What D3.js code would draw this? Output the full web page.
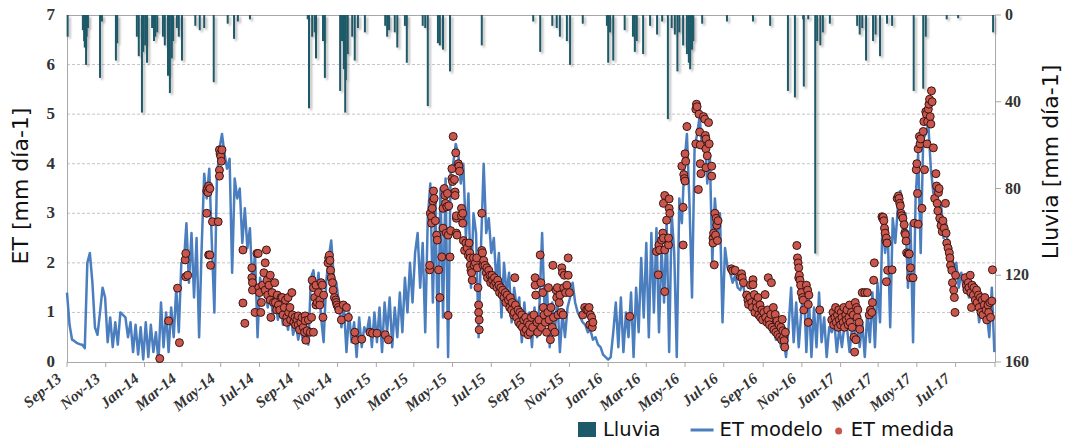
<!DOCTYPE html>
<html><head><meta charset="utf-8">
<script src="https://cdn.jsdelivr.net/npm/d3@7"></script>
<style>body{margin:0;background:#fff}svg{display:block}</style>
</head><body>
<svg id="c" width="1067" height="441"></svg>
<script>
// ---- DATA ----
const startDate = [2013, 8, 1];   // Sep 1 2013 (day 0)
const endDate = [2017, 8, 1];     // Sep 1 2017
const modelStepDays = 4;          // ET modelo sampled every 4 days from startDate
const etModelo = [
1.40,0.75,0.45,0.42,0.38,0.36,0.35,0.28,2.0,2.2,1.6,0.7,0.55,1.0,1.5,
1.3,0.4,0.9,0.3,0.8,0.35,1.0,0.95,0.9,0.5,0.8,0.2,0.75,0.15,0.7,0.05,
0.8,0.1,0.75,0.2,0.6,0.0,1.2,0.3,1.0,0.2,1.1,0.5,1.5,0.6,2.0,
2.0,2.8,1.6,2.6,1.3,2.5,0.5,2.3,3.8,3.3,3.9,2.4,1.0,3.7,4.3,
4.6,4.2,3.9,4.1,1.8,3.7,3.3,3.5,2.4,3.1,2.3,2.7,1.5,2.2,0.5,
1.7,1.4,1.6,1.1,1.45,0.95,1.3,0.85,1.1,0.75,0.95,0.65,1.0,0.55,0.8,0.45,
0.7,0.4,0.6,0.35,1.7,1.85,1.3,1.8,0.9,0.4,1.6,2.1,2.45,1.7,1.6,
1.2,0.7,1.1,0.2,1.0,0.4,0.8,0.1,0.9,0.3,0.7,0.6,0.9,0.3,1.0,
0.4,1.1,0.2,1.2,0.6,1.3,0.3,1.1,0.5,1.4,0.6,1.7,1.0,2.0,1.2,
2.2,2.6,1.5,2.4,0.6,2.9,3.6,1.2,3.3,0.3,3.5,0.9,3.7,0.1,3.9,
4.0,4.4,4.2,3.6,4.0,2.5,3.4,1.5,3.0,2.6,0.5,2.4,4.0,2.6,2.9,
2.2,2.5,1.6,2.2,0.9,2.0,1.4,1.8,0.8,1.5,1.1,1.3,0.4,1.2,0.6,1.0,
0.3,1.1,0.5,1.2,2.6,1.0,1.4,0.3,1.2,0.6,1.3,0.2,1.0,0.5,1.1,
1.3,1.6,1.2,1.0,0.9,0.8,0.75,0.6,0.65,0.45,0.5,0.35,0.3,0.15,0.1,
0.05,0.1,0.6,1.2,0.3,1.3,0.2,1.0,0.5,1.4,0.1,1.5,0.6,2.1,0.9,2.4,
0.5,2.6,1.0,2.7,0.6,2.3,1.2,2.8,0.2,3.0,2.2,0.1,3.3,2.8,4.0,
4.6,3.2,1.3,4.3,4.6,4.95,4.3,4.6,3.6,4.2,2.0,3.3,2.6,3.0,0.8,
2.3,1.9,1.8,1.6,1.75,1.5,1.45,1.6,1.3,1.4,1.15,1.3,1.0,1.15,0.95,
0.9,0.8,0.95,0.6,0.8,0.45,0.65,0.3,0.5,0.1,0.7,1.5,0.4,1.2,0.3,1.0,
1.6,0.2,1.3,0.1,1.1,0.3,1.4,0.4,0.9,0.1,0.7,0.6,0.8,0.2,0.7,
0.3,0.75,0.7,0.2,0.7,0.6,0.8,0.3,0.8,0.1,1.0,0.4,1.4,0.3,1.6,
0.8,2.9,2.2,2.7,0.7,2.9,2.4,3.1,3.45,2.6,3.0,1.5,2.8,0.4,3.3,
4.2,2.2,4.5,4.6,4.8,3.9,3.4,3.6,2.8,3.2,2.5,2.8,2.1,2.3,1.9,
2.0,1.5,1.8,1.45,1.6,1.3,1.45,1.1,1.3,0.8,1.1,0.9,1.0,0.5,1.5,0.2
];
// ET medida: [day since startDate, ET mm/day]
const etMedida = [
[146,0.07],[160,0.83],[174,1.49],[177,0.39],[186,2.06],[187,2.19],[187,1.72],[190,1.75],
[220,3.0],[220,3.45],[221,3.5],[222,3.42],[223,3.55],[225,3.5],[223,2.16],[225,2.16],[226,1.95],[229,2.83],[238,2.83],[240,3.87],[240,3.75],[240,4.28],[241,4.2],[242,4.15],[243,4.05],[244,4.28],
[277,2.26],[277,1.19],[280,0.78],[291,1.9],[291,1.7],[292,1.6],[292,1.45],[296,1.0],[299,2.19],[301,2.19],[302,1.5],[303,1.4],[305,1.0],[306,1.2],[308,1.55],[310,1.8],[312,2.0],[314,2.26],[312,1.45],[315,1.65],[316,1.35],[318,1.55],[320,1.75],[320,1.25],[321,0.9],[323,1.4],[325,1.2],[327,1.6],[328,1.2],[330,1.05],[331,1.35],[333,1.15],[335,1.05],[337,1.3],[339,1.3],[340,0.95],[342,1.1],[344,1.25],[346,0.9],[346,0.8],[348,1.3],[349,1.0],[351,1.1],[352,0.85],[354,1.4],[355,0.95],[357,0.8],[359,0.9],[360,0.75],[362,0.85],[364,0.75],[364,0.93],[366,0.65],[368,0.8],[370,0.9],[372,0.7],[374,0.6],[375,0.93],[375,0.83],[376,0.44],[378,0.63],[380,0.85],[383,0.6],[385,0.9],[388,0.6],
[386,1.65],[388,1.5],[390,1.3],[392,1.55],[392,1.15],[394,1.2],[396,1.4],[398,1.25],[398,1.15],[400,1.6],[402,1.55],[403,0.9],[404,1.35],[411,2.0],[412,2.1],[413,2.15],[414,2.05],[415,1.85],[416,1.7],[418,1.6],[419,1.45],[421,1.3],[423,1.25],[424,1.2],[425,1.15],[427,1.1],[428,1.05],[432,0.85],[435,1.15],[440,1.1],[443,0.9],
[453,0.6],[454,0.44],[464,0.46],[477,0.6],[481,0.58],[488,0.58],[501,0.55],[506,0.45],
[571,1.86],[571,1.95],[572,3.0],[574,2.93],[574,2.8],[575,3.1],[576,3.25],[577,3.45],[578,3.3],[580,2.85],[582,2.56],[583,2.46],[585,1.86],[587,1.3],[590,2.12],[592,3.1],[592,2.7],[594,3.5],[595,3.36],[596,3.2],[597,2.6],[598,3.13],[599,3.4],[600,2.56],[600,0.94],[601,3.15],[603,2.12],[604,2.65],[606,3.9],[606,3.7],[607,3.64],[608,4.55],[610,3.68],[611,3.43],[611,3.36],[612,4.22],[613,2.9],[613,2.95],[613,2.6],[614,2.56],[616,4.0],[617,3.95],[618,3.85],[621,3.1],[621,2.95],[623,3.0],[623,2.8],[624,2.45],[626,2.25],[628,2.4],[630,2.3],[632,2.15],[633,2.4],[634,2.2],[635,2.1],[635,1.95],[636,1.85],[637,1.8],[638,1.65],[640,2.1],[641,1.95],[643,2.0],[645,2.1],[646,1.9],[647,1.5],[648,1.15],[648,1.0],[649,0.85],[649,0.65],[653,3.0],[653,2.25],[654,2.2],[655,1.95],[656,2.05],[658,1.95],[660,1.8],[661,1.9],[662,1.7],[664,1.85],[666,1.75],[667,1.6],[669,1.75],[670,1.65],[672,1.55],[673,1.7],[675,1.6],[677,1.5],[678,1.65],[680,1.55],[681,1.4],[683,1.5],[685,1.35],[686,1.45],[688,1.3],[690,1.4],[691,1.2],[693,1.35],[695,1.25],[697,1.1],[698,1.3],[700,1.05],[701,1.2],[703,0.95],[704,1.0],[705,1.7],[706,1.15],[708,0.9],[710,1.05],[711,0.8],[713,1.0],[714,0.75],[716,0.95],[717,0.7],[719,0.85],[720,0.6],[722,0.9],[723,0.65],[725,0.8],[726,0.55],[728,0.75],[729,0.6],[731,0.9],[733,0.7],[735,0.95],[737,1.7],[737,1.55],[738,1.35],[740,0.8],[741,0.6],[743,0.85],[745,2.16],[746,1.6],[747,0.7],[749,1.4],[750,1.1],[751,0.95],[753,0.8],[755,0.6],[757,1.0],[758,1.5],[759,0.85],[761,0.45],[762,1.1],[764,0.7],[765,1.95],[766,0.9],[768,0.6],[770,1.45],[771,1.3],[772,1.5],[773,0.95],[775,1.2],[776,1.35],[778,1.0],[779,1.9],[780,1.8],[781,0.95],[782,1.5],[783,1.75],[785,1.4],[787,1.55],[789,2.1],[789,1.75],[791,1.4],
[812,0.95],[815,1.1],[818,1.05],[820,1.05],[822,1.1],[823,0.75],[824,0.95],[826,0.9],[827,0.7],[828,0.8],
[886,0.92],
[928,2.23],[931,1.76],[932,2.36],[933,2.26],[936,2.46],[938,2.6],[939,2.5],[939,3.2],[941,3.36],[941,2.26],[941,1.42],[944,2.86],[947,2.36],[947,2.5],[948,3.29],[948,3.1],[949,3.0],[968,3.95],[970,3.12],[970,2.36],[971,3.78],[972,3.7],[973,3.65],[973,4.2],[974,4.05],[976,4.75],[990,4.4],[990,5.1],[991,5.2],[992,5.15],[994,3.48],[995,5.0],[996,4.64],[997,4.38],[997,4.0],[998,3.8],[1002,4.95],[1004,4.9],[1005,4.57],[1006,4.5],[1006,4.3],[1006,3.92],[1008,4.16],[1010,4.83],[1011,4.4],[1015,3.95],[1015,3.75],[1017,2.5],[1017,2.4],[1018,2.6],[1019,1.96],[1020,3.0],[1021,2.56],[1022,2.9],[1023,2.76],[1024,2.45],[1025,2.85],
[1046,1.88],[1048,1.84],[1052,1.85],[1060,1.72],[1062,1.78],[1063,1.7],[1065,1.6],[1070,1.35],[1072,1.25],[1073,1.16],[1075,1.3],[1076,1.55],[1078,1.2],[1079,1.1],[1080,1.66],[1080,1.56],[1082,1.36],[1083,1.0],[1085,1.2],[1086,1.1],[1088,1.3],[1089,0.95],[1091,1.15],[1092,0.9],[1094,1.05],[1095,0.85],[1097,1.0],[1099,1.36],[1100,0.9],[1102,0.8],[1103,1.05],[1104,1.7],[1105,0.85],[1106,0.75],[1108,0.96],[1109,1.6],[1110,0.7],[1112,1.1],[1113,0.65],[1115,0.96],[1116,0.6],[1118,0.83],[1119,0.55],[1121,0.75],[1122,0.5],[1124,0.7],[1125,0.45],[1126,0.86],[1127,0.63],[1128,0.5],[1129,0.43],[1130,0.3],[1131,0.6],
[1149,2.35],[1150,2.1],[1151,2.0],[1152,1.9],[1152,1.7],[1153,1.75],[1154,1.65],[1155,1.55],[1156,1.4],[1158,1.3],[1159,1.25],[1160,1.05],[1164,1.55],[1166,1.45],[1167,1.16],[1168,1.35],[1167,0.8],[1185,1.05],
[1204,0.85],[1206,1.0],[1207,0.75],[1209,0.9],[1210,1.1],[1211,0.8],[1213,0.95],[1214,0.7],[1215,1.05],[1216,0.85],[1218,0.75],[1219,1.0],[1220,0.9],[1222,0.8],[1223,1.1],[1224,0.7],[1226,0.95],[1227,0.85],[1228,1.05],[1230,0.75],[1231,0.9],[1232,1.15],[1233,0.8],[1235,1.0],[1236,0.7],[1238,0.95],[1239,0.5],[1240,0.2],[1241,1.2],[1242,0.45],[1243,1.1],[1244,0.9],[1245,1.05],[1247,0.8],[1248,0.66],[1252,1.4],[1256,1.4],[1260,1.4],[1263,0.95],[1265,1.05],[1267,1.0],[1268,1.2],[1270,1.65],[1271,2.0],
[1283,2.93],[1284,2.9],[1285,2.92],[1286,2.85],[1287,2.7],[1288,2.6],[1289,2.45],[1290,2.5],[1290,1.62],[1291,2.4],[1292,1.85],[1299,1.86],[1307,3.3],[1309,3.35],[1310,3.3],[1311,3.2],[1312,3.15],[1313,3.0],[1314,2.95],[1316,2.9],[1318,2.77],[1319,2.6],[1320,2.57],[1321,2.44],[1322,2.2],[1324,2.18],[1326,2.18],[1328,1.9],[1328,1.7],[1332,1.7],[1334,2.8],[1337,3.88],[1338,4.0],[1339,3.4],[1340,4.3],[1340,2.78],[1342,4.55],[1343,4.4],[1344,4.5],[1346,3.1],[1348,4.65],[1349,4.85],[1350,3.88],[1352,5.05],[1353,5.0],[1354,4.4],[1355,4.85],[1356,5.1],[1357,5.2],[1358,5.3],[1359,4.95],[1360,4.8],[1361,5.47],[1362,5.25],[1364,4.32],[1366,3.3],[1368,3.8],[1369,3.55],[1370,3.2],[1371,3.05],[1372,3.42],[1373,3.5],[1374,2.9],[1376,2.75],[1378,2.63],[1379,2.85],[1381,2.7],[1383,3.2],[1384,2.6],[1385,2.4],[1387,2.3],[1389,2.2],[1390,2.1],[1391,1.95],[1393,1.85],[1394,1.6],[1396,1.45],[1397,1.3],[1398,1.0],[1399,1.75],[1414,1.7],[1416,1.55],[1417,1.45],[1419,1.6],[1420,1.5],[1422,1.75],[1423,1.4],[1424,1.1],[1425,1.55],[1427,1.35],[1428,1.5],[1430,1.25],[1432,1.45],[1433,1.2],[1435,1.35],[1436,1.1],[1438,1.3],[1439,1.0],[1441,1.25],[1442,0.95],[1444,1.15],[1445,1.3],[1447,1.05],[1448,0.85],[1450,1.15],[1451,1.0],[1453,1.2],[1454,0.9],[1456,1.23],[1457,1.86]
];
// Lluvia: [day since startDate, mm/day]
const lluvia = [
[1,10],[25,7],[27,12],[28,15],[30,23],[31,10],[33,6],[52,29],[55,3],[77,21],[79,13],
[110,10],[113,19],[118,45],[120,17],[123,14],[126,22],[134,6],[137,12],[139,10],[142,8],
[151,10],[154,14],[159,28],[162,36],[165,20],[167,12],[173,6],[176,10],[181,21],
[202,5],[209,7],[216,6],[231,31],[253,4],[263,11],[269,3],[288,2],
[379,2],[381,43],[386,10],[390,8],[392,20],[403,12],[406,29],
[430,35],[433,12],[436,25],[438,45],[439,30],[442,18],[449,10],[453,21],[458,6],[469,8],
[501,5],[504,10],[507,7],[516,8],[520,15],[532,5],[535,22],[560,5],[564,6],[568,42],
[584,13],[587,14],[592,16],[603,26],[653,14],[734,3],[745,17],
[764,5],[771,6],[776,10],[787,12],[792,23],[812,4],
[850,5],[852,22],[855,8],[860,21],[878,7],[891,10],[894,17],[897,12],[907,18],[918,5],[929,9],[937,3],
[946,48],[952,6],[957,9],[961,26],[964,8],[970,14],[976,18],[979,22],[981,25],[984,16],[986,12],
[1000,4],[1039,3],[1080,3],[1107,5],[1135,35],[1146,38],[1159,2],[1160,33],[1167,2],
[1178,110],[1181,12],[1186,14],[1190,8],[1201,4],[1244,5],[1248,9],[1252,6],[1258,21],
[1269,12],[1273,9],[1280,19],[1291,4],[1299,5],[1333,35],[1348,34],[1352,10],[1385,2],[1403,1.5],[1458,8]
];
const xTickLabels = ["Sep-13","Nov-13","Jan-14","Mar-14","May-14","Jul-14","Sep-14","Nov-14","Jan-15","Mar-15","May-15","Jul-15","Sep-15","Nov-15","Jan-16","Mar-16","May-16","Jul-16","Sep-16","Nov-16","Jan-17","Mar-17","May-17","Jul-17"];
const etTicks = [0,1,2,3,4,5,6,7];
const rainTicks = [0,40,80,120,160];
const legendLabels = ["Lluvia","ET modelo","ET medida"];
const yTitleLeft = "ET  [mm  día-1]";
const yTitleRight = "Lluvia  [mm  día-1]";

// ---- CHART ----
const svg = d3.select("#c");
const L = 67, R = 995, T = 15, B = 362;
const t0 = new Date(...startDate), t1 = new Date(...endDate);
const day = d => d3.timeDay.offset(t0, d);
const x = d3.scaleTime().domain([t0, t1]).range([L, R]);
const y = d3.scaleLinear().domain([0, 7]).range([B, T]);
const yr = d3.scaleLinear().domain([0, 160]).range([T, B]);
const cBar = "#1d5a69", cLine = "#4a7ebf", cDot = "#c9564d";

const defs = svg.append("defs");
const f = defs.append("filter").attr("id","sh").attr("x","-50%").attr("y","-10%").attr("width","300%").attr("height","130%");
f.append("feDropShadow").attr("dx",2).attr("dy",2).attr("stdDeviation",1.2).attr("flood-color","#777").attr("flood-opacity",0.55);

// grid
svg.append("g").selectAll("line").data(etTicks.filter(v => v > 0 && v < 7)).join("line")
  .attr("x1", L).attr("x2", R).attr("y1", d => y(d)).attr("y2", d => y(d))
  .attr("stroke", "#c4c4c4").attr("stroke-dasharray", "3,2").attr("stroke-width", 1);
// frame lines
svg.append("line").attr("x1",L).attr("x2",R).attr("y1",T+0.5).attr("y2",T+0.5).attr("stroke","#a8a8a8");
svg.append("line").attr("x1",L+0.5).attr("x2",L+0.5).attr("y1",T).attr("y2",B).attr("stroke","#a8a8a8");
svg.append("line").attr("x1",R+0.5).attr("x2",R+0.5).attr("y1",T).attr("y2",B).attr("stroke","#a8a8a8");
svg.append("line").attr("x1",L).attr("x2",R).attr("y1",B+0.5).attr("y2",B+0.5).attr("stroke","#a8a8a8");

// rain bars
svg.append("g").attr("filter","url(#sh)").selectAll("rect").data(lluvia).join("rect")
  .attr("x", d => x(day(d[0])) - 1).attr("width", 2)
  .attr("y", T).attr("height", d => yr(d[1]) - T).attr("fill", cBar);

// model line
const line = d3.line().x((v, i) => x(day(i * modelStepDays))).y(v => y(v));
svg.append("path").datum(etModelo).attr("d", line).attr("fill", "none")
  .attr("stroke", cLine).attr("stroke-width", 2.5).attr("stroke-linejoin", "round");

// measured points
svg.append("g").selectAll("circle").data(etMedida).join("circle")
  .attr("cx", d => x(day(d[0]))).attr("cy", d => y(d[1])).attr("r", 4)
  .attr("fill", cDot).attr("stroke", "#3a1512").attr("stroke-width", 1);

// left axis labels
svg.append("g").selectAll("text").data(etTicks).join("text")
  .attr("x", L - 12).attr("y", d => y(d) + 5).attr("text-anchor", "end")
  .attr("font-family", "Liberation Serif").attr("font-weight", "bold").attr("font-size", 17).attr("fill", "#333")
  .text(d => d);
// right axis
const ra = svg.append("g");
ra.selectAll("line").data(rainTicks).join("line")
  .attr("x1", R).attr("x2", R + 6).attr("y1", d => yr(d)).attr("y2", d => yr(d)).attr("stroke", "#a8a8a8");
ra.selectAll("text").data(rainTicks).join("text")
  .attr("x", R + 10).attr("y", d => yr(d) + 5)
  .attr("font-family", "Liberation Serif").attr("font-weight", "bold").attr("font-size", 16).attr("fill", "#333")
  .text(d => d);
// x axis
const xt = d3.timeMonth.range(t0, d3.timeDay.offset(t1, 1), 2);
const xa = svg.append("g");
xa.selectAll("line").data(xt).join("line")
  .attr("x1", d => x(d)).attr("x2", d => x(d)).attr("y1", B).attr("y2", B + 5).attr("stroke", "#a8a8a8");
xa.selectAll("text").data(xt.slice(0, xTickLabels.length)).join("text")
  .attr("transform", d => `translate(${x(d) - 8},${B + 14}) rotate(-40)`)
  .attr("text-anchor", "end").attr("dy", "0.35em")
  .attr("font-family", "Liberation Serif").attr("font-weight", "bold").attr("font-style", "italic").attr("font-size", 15.5).attr("fill", "#333")
  .text((d, i) => xTickLabels[i]);

// titles
svg.append("text").attr("transform", `translate(28,186) rotate(-90)`).attr("text-anchor", "middle")
  .attr("font-family", "DejaVu Sans").attr("font-size", 22).attr("fill", "#111").text(yTitleLeft);
svg.append("text").attr("transform", `translate(1058,162) rotate(-90)`).attr("text-anchor", "middle")
  .attr("font-family", "DejaVu Sans").attr("font-size", 22).attr("fill", "#111").text(yTitleRight);

// legend (laid out sequentially)
const lg = svg.append("g").attr("font-family", "DejaVu Sans").attr("font-size", 19.5).attr("fill", "#111");
const base = 436;
let cx = 578;
lg.append("rect").attr("x", cx).attr("y", 422).attr("width", 18).attr("height", 15).attr("fill", cBar);
cx += 25;
let t = lg.append("text").attr("x", cx).attr("y", base).text(legendLabels[0]);
cx += t.node().getComputedTextLength() + 30;
lg.append("line").attr("x1", cx).attr("x2", cx + 23).attr("y1", 430).attr("y2", 430).attr("stroke", cLine).attr("stroke-width", 3);
cx += 29;
t = lg.append("text").attr("x", cx).attr("y", base).text(legendLabels[1]);
cx += t.node().getComputedTextLength() + 16;
lg.append("circle").attr("cx", cx).attr("cy", 431).attr("r", 3.5).attr("fill", cDot);
cx += 12;
lg.append("text").attr("x", cx).attr("y", base).text(legendLabels[2]);
</script>
</body></html>
